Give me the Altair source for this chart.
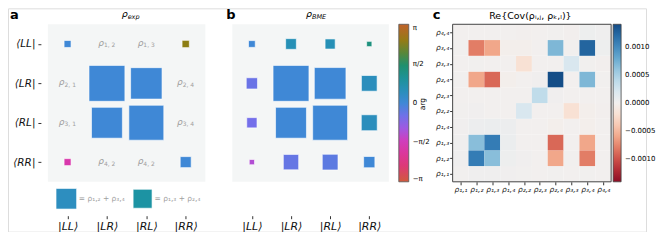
import json
import math
import altair as alt
import pandas as pd

PI = math.pi

# ---------------- data ----------------
ROW_LABELS = ["⟨LL|", "⟨LR|", "⟨RL|", "⟨RR|"]
COL_LABELS = ["|LL⟩", "|LR⟩", "|RL⟩", "|RR⟩"]

# panel a: |rho_exp| and arg (None where a text label is shown instead)
EXP_MAG = [[0.093, None, None, 0.097],
           [None, 0.48, 0.42, None],
           [None, 0.413, 0.467, None],
           [0.093, None, None, 0.147]]
EXP_ARG = [[0.0, None, None, 2.4],
           [None, 0.0, 0.0, None],
           [None, 0.0, 0.0, None],
           [-1.75, None, None, 0.0]]
EXP_TEXT = [[None, "1, 2", "1, 3", None],
            ["2, 1", None, None, "2, 4"],
            ["3, 1", None, None, "3, 4"],
            [None, "4, 2", "4, 2", None]]
LEGEND_MAG = [0.275, 0.253]
LEGEND_ARG = [0.4, 0.85]
LEGEND_TEXT = ["= ρ₁,₂ + ρ₃,₄", "= ρ₁,₃ + ρ₂,₄"]

# panel b: |rho_BME| and arg
BME_MAG = [[0.09, 0.143, 0.135, 0.07],
           [0.15, 0.48, 0.423, 0.21],
           [0.137, 0.413, 0.467, 0.213],
           [0.07, 0.205, 0.21, 0.15]]
BME_ARG = [[0.0, 0.55, 0.55, 1.3],
           [-0.45, 0.0, 0.0, 0.45],
           [-0.55, 0.0, 0.0, 0.45],
           [-1.2, -0.4, -0.3, 0.0]]

ARG_TICKS = [-PI, -PI / 2, 0, PI / 2, PI]
ARG_TICK_LABELS = ["−π", "−π/2", "0", "π/2", "π"]

# panel c: Re{Cov} in units of 1e-4, rows = y index (rho11 at bottom)
COV_LABELS = ["ρ₁,₁", "ρ₁,₂", "ρ₁,₃", "ρ₁,₄", "ρ₂,₂", "ρ₂,₃", "ρ₂,₄", "ρ₃,₃", "ρ₃,₄", "ρ₄,₄"]
COV = [
    [0.1, 0.3, 0.3, 0.2, 0.1, 0.0, 0.1, 0.0, 0.1, 0.0],
    [0.3, 11.0, 6.5, 0.4, 0.2, 0.0, -6.0, 0.1, -8.0, 0.0],
    [0.3, 6.5, 11.0, 0.6, 0.0, 0.0, -9.0, 0.0, -6.0, 0.0],
    [0.2, 0.5, 0.6, 0.5, 0.0, 0.0, -0.2, 0.0, -0.2, 0.0],
    [0.1, 0.2, 0.0, 0.0, 2.2, 0.0, 0.0, -2.0, -0.2, -0.1],
    [0.0, 0.0, 0.0, 0.0, 0.0, 3.8, 0.2, 0.0, 0.0, 0.0],
    [0.1, -6.0, -9.0, -0.2, 0.0, 0.2, 14.0, 0.0, 7.0, 0.1],
    [0.0, 0.1, 0.0, 0.0, -2.0, 0.0, 0.0, 2.2, 0.1, -0.1],
    [0.1, -8.0, -6.0, -0.2, -0.2, 0.0, 7.0, 0.1, 12.5, 0.4],
    [0.0, 0.0, 0.0, 0.0, -0.1, 0.0, 0.1, -0.1, 0.4, 0.3],
]
COV_UNIT = 1e-4
COV_LIMIT = 0.00141
COV_TICKS = [-0.001, -0.0005, 0.0, 0.0005, 0.001]

# ---------------- styling ----------------
FONT = "DejaVu Sans"
BG = "#f4f6f6"
ARG_STOPS = [-PI, -3 * PI / 4, -PI / 2, -PI / 4, 0, PI / 4, PI / 2, 3 * PI / 4, PI]
ARG_COLORS = ["#d05a3c", "#e03284", "#d63ab8", "#8a64f2", "#3f88d6",
              "#1c93a8", "#1f9068", "#8a8012", "#c0622a"]
ARG_SCALE = alt.Scale(domain=ARG_STOPS, range=ARG_COLORS, interpolate="rgb")
SIZE_SCALE = alt.Scale(type="pow", exponent=2, domain=[0, 1], range=[0, 75 * 75])

W, H = 640, 224                 # view size (legend labels spill a little to the right)
Y0, Y1 = 24 - 8, 182 - 8        # plot rows span (view coords)


def qscale(lo, hi, n):
    return alt.Scale(domain=[-0.5, n - 0.5], range=[lo, hi], nice=False, zero=False)


def label_expr(labels):
    return json.dumps(labels, ensure_ascii=False) + "[datum.value]"


def cells(mag, arg):
    recs = []
    for r in range(4):
        for c in range(4):
            if mag[r][c] is not None:
                recs.append({"row": r, "col": c, "mag": mag[r][c], "arg": arg[r][c]})
    return pd.DataFrame(recs)


def texts(txt):
    recs = []
    for r in range(4):
        for c in range(4):
            if txt[r][c] is not None:
                recs.append({"row": r, "col": c, "sub": txt[r][c]})
    return pd.DataFrame(recs)


def note(text, x, y, **kw):
    return alt.Chart(pd.DataFrame({"t": [text]})).mark_text(font=FONT, **kw).encode(
        x=alt.value(x), y=alt.value(y), text="t:N")


box4 = pd.DataFrame({"lo": [-0.5], "hi": [3.5]})
box10 = pd.DataFrame({"lo": [-0.5], "hi": [9.5]})


def density_panel(mag, arg, xr, show_y, legend):
    xs = qscale(xr[0], xr[1], 4)
    ys = qscale(Y0, Y1, 4)
    ax_x = alt.Axis(orient="bottom", offset=(216 - 8) - H, values=[0, 1, 2, 3],
                    labelExpr=label_expr(COL_LABELS),
                    domain=False, grid=False, tickSize=3, tickColor="#333", labelFontSize=11,
                    labelFontStyle="italic", labelPadding=2, labelColor="#111", title=None, labelFont=FONT)
    if show_y:
        ax_y = alt.Axis(orient="left", offset=-33, values=[0, 1, 2, 3], labelExpr=label_expr(ROW_LABELS),
                        domain=False, grid=False, tickSize=3, tickColor="#333", labelFontSize=10.5,
                        labelFontStyle="italic", labelPadding=3, labelColor="#111", title=None, labelFont=FONT)
        Y = lambda f: alt.Y(f, scale=ys, axis=ax_y)
    else:
        Y = lambda f: alt.Y(f, scale=ys, axis=None)
    X = lambda f: alt.X(f, scale=xs, axis=ax_x)
    bg = alt.Chart(box4).mark_rect(color=BG).encode(x=X("lo:Q"), x2="hi:Q", y=Y("lo:Q"), y2="hi:Q")
    sq = alt.Chart(cells(mag, arg)).mark_square(opacity=1, stroke="white", strokeWidth=1, strokeOpacity=0.6).encode(
        x=X("col:Q"), y=Y("row:Q"),
        size=alt.Size("mag:Q", scale=SIZE_SCALE, legend=None),
        color=alt.Color("arg:Q", scale=ARG_SCALE, legend=legend))
    return [bg, sq], X, Y


# ---------- panel a ----------
layers_a, XA, YA = density_panel(EXP_MAG, EXP_ARG, (40, 198), True, None)
tdf = texts(EXP_TEXT)
rho_a = alt.Chart(tdf).mark_text(text="ρ", font=FONT, fontSize=9, fontStyle="italic", color="#a0a0a0",
                                  align="right", dx=-3, dy=-1).encode(x=XA("col:Q"), y=YA("row:Q"))
sub_a = alt.Chart(tdf).mark_text(font=FONT, fontSize=6, color="#a0a0a0", align="left", dx=-3, dy=1.5).encode(
    x=XA("col:Q"), y=YA("row:Q"), text="sub:N")
LEG_Y = 199 - 8
leg_layers = []
for i, (cx, tx) in enumerate([(58.5, 71), (135, 147)]):
    ldf = pd.DataFrame({"mag": [LEGEND_MAG[i]], "arg": [LEGEND_ARG[i]], "t": [LEGEND_TEXT[i]]})
    leg_layers.append(alt.Chart(ldf).mark_square(opacity=1, stroke="white", strokeWidth=1, strokeOpacity=0.6).encode(
        x=alt.value(cx), y=alt.value(LEG_Y),
        size=alt.Size("mag:Q", scale=SIZE_SCALE, legend=None),
        color=alt.Color("arg:Q", scale=ARG_SCALE, legend=None)))
    leg_layers.append(alt.Chart(ldf).mark_text(font=FONT, fontSize=7.5, color="#a0a0a0", align="left",
                                               baseline="middle").encode(
        x=alt.value(tx), y=alt.value(LEG_Y), text="t:N"))
panel_a = alt.layer(*layers_a, rho_a, sub_a, *leg_layers)

# ---------- panel b ----------
arg_legend = alt.Legend(orient="none", legendX=392, legendY=Y0, direction="vertical", gradientLength=158,
                        gradientThickness=10, values=ARG_TICKS,
                        labelExpr=json.dumps(ARG_TICK_LABELS, ensure_ascii=False) +
                        "[round((datum.value + PI) / (PI / 2))]",
                        title=None, labelFontSize=7, labelOffset=4, labelFont=FONT,
                        gradientStrokeColor="#555", gradientStrokeWidth=0.8, labelOverlap=False)
layers_b, XB, YB = density_panel(BME_MAG, BME_ARG, (225, 382), False, arg_legend)
panel_b = alt.layer(*layers_b)

# ---------- panel c ----------
cov_recs = []
for yi in range(10):
    for xi in range(10):
        cov_recs.append({"xi": xi, "yi": yi, "v": COV[yi][xi] * COV_UNIT})
cov_df = pd.DataFrame(cov_recs)
xc = qscale(446, 605, 10)
yc = qscale(Y1, Y0, 10)
axc_x = alt.Axis(orient="bottom", offset=Y1 - H, values=list(range(10)), labelExpr=label_expr(COV_LABELS),
                 domain=False, grid=False, tickSize=3, tickColor="#333", labelFontSize=7.5, labelPadding=1,
                 labelColor="#222", title=None, labelFont=FONT, labelFontStyle="italic")
axc_y = alt.Axis(orient="left", offset=-446, values=list(range(10)), labelExpr=label_expr(COV_LABELS),
                 domain=False, grid=False, tickSize=3, tickColor="#333", labelFontSize=7.5, labelPadding=1,
                 labelColor="#222", title=None, labelFont=FONT, labelFontStyle="italic")
cov_legend = alt.Legend(orient="none", legendX=607, legendY=Y0, direction="vertical", gradientLength=158,
                        gradientThickness=8, values=COV_TICKS, format=".4f", title=None, labelFontSize=7,
                        labelOffset=4, labelFont=FONT, gradientStrokeColor="#444", gradientStrokeWidth=0.8,
                        labelOverlap=False)
heat = alt.Chart(cov_df).transform_calculate(
    x0="datum.xi - 0.5", x1="datum.xi + 0.5", y0="datum.yi - 0.5", y1="datum.yi + 0.5"
).mark_rect().encode(
    x=alt.X("x0:Q", scale=xc, axis=axc_x), x2="x1:Q",
    y=alt.Y("y0:Q", scale=yc, axis=axc_y), y2="y1:Q",
    color=alt.Color("v:Q", scale=alt.Scale(scheme="redblue", domain=[-COV_LIMIT, COV_LIMIT]), legend=cov_legend))
frame = alt.Chart(box10).mark_rect(filled=False, stroke="#444", strokeWidth=1).encode(
    x=alt.X("lo:Q", scale=xc, axis=axc_x), x2="hi:Q", y=alt.Y("lo:Q", scale=yc, axis=axc_y), y2="hi:Q")
panel_c = alt.layer(heat, frame)

# ---------- annotations ----------
def py(page_y):
    return page_y - 8


notes = [
    note("a", 2, py(18.5), fontSize=13, fontWeight="bold", align="left", baseline="alphabetic"),
    note("b", 219, py(18.5), fontSize=13, fontWeight="bold", align="left", baseline="alphabetic"),
    note("c", 426, py(18.5), fontSize=13, fontWeight="bold", align="left", baseline="alphabetic"),
    note("ρ", 114, py(16.5), fontSize=9.5, fontStyle="italic", align="left", baseline="alphabetic"),
    note("exp", 120, py(18.5), fontSize=6.5, fontStyle="italic", align="left", baseline="alphabetic"),
    note("ρ", 299, py(16.5), fontSize=9.5, fontStyle="italic", align="left", baseline="alphabetic"),
    note("BME", 305, py(18.5), fontSize=6.5, fontStyle="italic", align="left", baseline="alphabetic"),
    note("Re{Cov(ρᵢ,ⱼ, ρₖ,ₗ)}", 524, py(19), fontSize=9.5, align="center", baseline="alphabetic"),
    note("arg", 416, py(104), fontSize=7.5, angle=270, align="center", baseline="middle"),
]

chart = alt.layer(panel_a, panel_b, panel_c, *notes).resolve_scale(
    x="independent", y="independent", color="independent", size="independent"
).resolve_axis(x="independent", y="independent").resolve_legend(color="independent").properties(
    width=W, height=H, autosize=alt.AutoSizeParams(type="pad"), padding=0
).configure_view(stroke="transparent").configure(font=FONT)

chart.save("out.html", embed_options={"renderer": "svg", "actions": False})
